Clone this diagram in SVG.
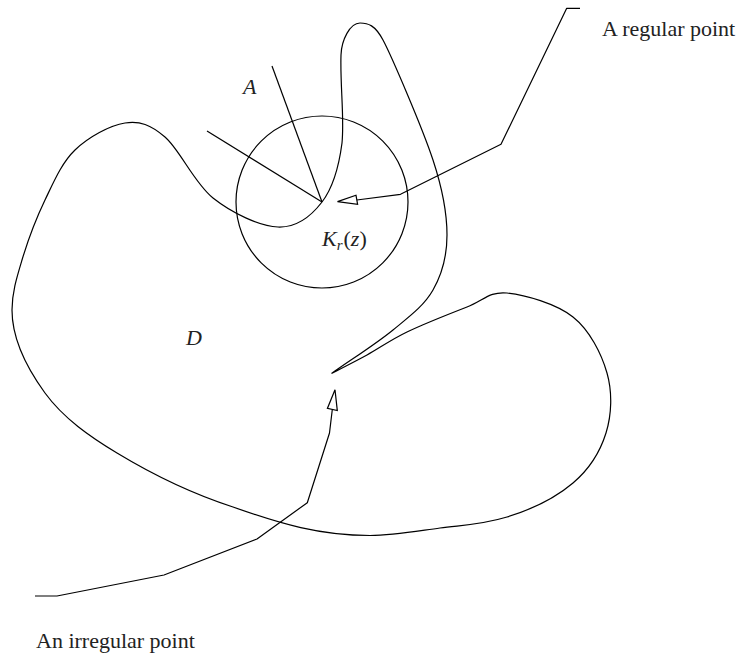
<svg xmlns="http://www.w3.org/2000/svg" width="742" height="656" viewBox="0 0 742 656">
<style>
.ln{fill:none;stroke:#000;stroke-width:1.2;stroke-linejoin:round}
.hd{fill:#fff;stroke:#000;stroke-width:1.2;stroke-linejoin:miter}
.t{font-family:"Liberation Serif","Times New Roman",serif;font-size:22px;fill:#222}
.it{font-style:italic}
</style>
<rect width="742" height="656" fill="#fff"/>
<g id="domain">
<path class="ln" d="M331.5,373.5 C343.3,367.3 354.4,361.9 367,355 C379.6,348.1 390.3,340 407,332 C423.7,324 450.3,313.5 467,307 C483.7,300.5 489.3,291.3 507,293 C524.7,294.7 556.3,303.7 573,317 C589.7,330.3 601.5,353.7 607,373 C612.5,392.3 611.7,414.7 606,433 C600.3,451.3 589.5,469 573,483 C556.5,497 532.5,509.2 507,517 C481.5,524.8 462.5,525 440,528 C416.9,531.1 393.3,535.5 370,535.5 C320,535.5 281,524 233,507 C192.4,493.8 153.5,475.1 117,453 C90.2,436.8 63.5,418.4 45,393 C27.5,368.9 12,339.7 12,310 C12,293 16.5,278.3 22,260 C27.5,241.7 36.2,218.3 45,200 C53.8,181.7 61.7,162.8 75,150 C88.3,137.2 110,125.2 125,123 C140,120.8 150.3,124.5 165,137 C179.7,149.5 194.2,183 213,198 C231.8,213 259.8,226.3 278,227 C296.2,227.7 311.3,216 322,202 C332.7,188 338.8,167.5 342,143 C344.5,118 340,85 341,55 C341.5,40 350,23 360,23 C368,23 375,25 383,40 C391,55 422.3,127.5 433,160 C443.7,192.5 447,213.3 447,235 C447,256.7 442,274.2 433,290 C424,305.8 409.9,316.1 393,330 C376.1,343.9 352,359 331.5,373.5"/>
<text class="t it" x="186" y="345">D</text>
</g>
<g id="disk">
<circle class="ln" cx="322" cy="202" r="86"/>
<text class="t" x="322" y="246"><tspan class="it">K</tspan><tspan class="it" font-size="15" dy="4">r</tspan><tspan dy="-4" dx="1">(</tspan><tspan class="it">z</tspan><tspan>)</tspan></text>
</g>
<g id="cone">
<line class="ln" x1="322" y1="202" x2="272" y2="66"/>
<line class="ln" x1="322" y1="202" x2="207" y2="131"/>
<text class="t it" x="243" y="94">A</text>
</g>
<g id="label-regular">
<text class="t" x="602" y="36">A regular point</text>
</g>
<g id="label-irregular">
<text class="t" x="36" y="648">An irregular point</text>
</g>
<g id="connectors">
<polyline class="ln" points="580,8.3 566.7,8.3 501,144.3 400.5,194.3 356.8,200"/>
<polygon class="hd" points="337.5,201.6 356,195.3 357.6,204.4"/>
<polyline class="ln" points="35,596 57,596 164,575 257,539 307.3,502.7 329.5,433 332.3,409.5"/>
<polygon class="hd" points="335,389.8 327.4,408.4 337.3,410.6"/>
</g>
</svg>
